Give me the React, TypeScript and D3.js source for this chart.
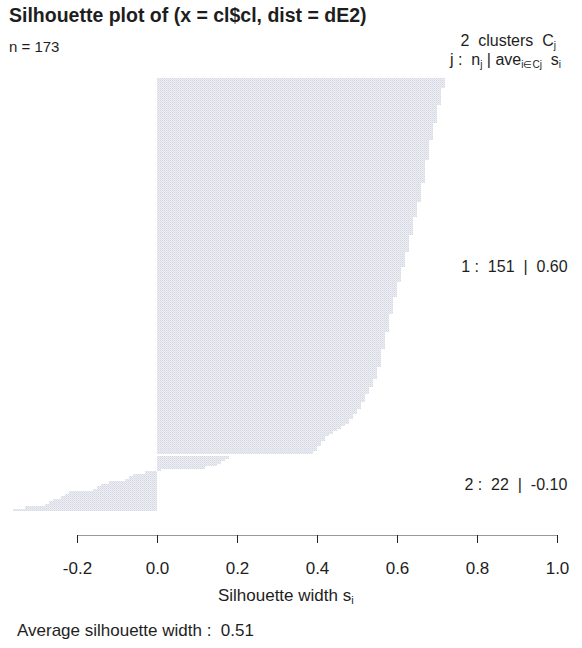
import React, { useEffect, useRef } from "react";
import * as d3 from "d3";

// silhouette widths, sorted within each cluster
const cluster1Widths = [
  0.72, 0.72, 0.72, 0.72, 0.71, 0.71, 0.71, 0.71, 0.71, 0.71,
  0.71, 0.7, 0.7, 0.7, 0.7, 0.7, 0.7, 0.7, 0.69, 0.69,
  0.69, 0.69, 0.69, 0.69, 0.69, 0.68, 0.68, 0.68, 0.68, 0.68,
  0.68, 0.68, 0.68, 0.67, 0.67, 0.67, 0.67, 0.67, 0.67, 0.67,
  0.67, 0.67, 0.66, 0.66, 0.66, 0.66, 0.66, 0.66, 0.66, 0.66,
  0.65, 0.65, 0.65, 0.65, 0.65, 0.65, 0.64, 0.64, 0.64, 0.64,
  0.64, 0.64, 0.64, 0.63, 0.63, 0.63, 0.63, 0.63, 0.63, 0.63,
  0.62, 0.62, 0.62, 0.62, 0.62, 0.62, 0.61, 0.61, 0.61, 0.61,
  0.61, 0.61, 0.6, 0.6, 0.6, 0.6, 0.6, 0.6, 0.59, 0.59,
  0.59, 0.59, 0.59, 0.59, 0.59, 0.58, 0.58, 0.58, 0.58, 0.58,
  0.58, 0.58, 0.57, 0.57, 0.57, 0.57, 0.57, 0.57, 0.57, 0.56,
  0.56, 0.56, 0.56, 0.56, 0.56, 0.56, 0.55, 0.55, 0.55, 0.55,
  0.55, 0.54, 0.54, 0.54, 0.53, 0.53, 0.53, 0.52, 0.52, 0.52,
  0.51, 0.51, 0.51, 0.5, 0.5, 0.49, 0.49, 0.48, 0.48, 0.47,
  0.46, 0.45, 0.44, 0.43, 0.42, 0.42, 0.41, 0.41, 0.4, 0.4,
  0.39,
];
const cluster2Widths = [
  0.18, 0.17, 0.16, 0.15, 0.12, 0.01,
  -0.03, -0.06, -0.07, -0.08, -0.12, -0.14, -0.15, -0.16,
  -0.22, -0.23, -0.24, -0.26, -0.27, -0.28, -0.33, -0.36,
];
const xTicks = [-0.2, 0, 0.2, 0.4, 0.6, 0.8, 1.0];

const App = () => {
  const svgRef: any = useRef();

  useEffect(() => {
    const svg = d3.select(svgRef.current);
    svg.selectAll("*").remove();
    const font = "'Liberation Sans', Arial, Helvetica, sans-serif";
    const ink = "#1e1e1e";
    const fs = 17;

    const x = d3.scaleLinear().domain([-0.2, 1]).range([77, 557]);
    const nSlots = cluster1Widths.length + 1 + cluster2Widths.length;
    const y = d3.scaleLinear().domain([0, nSlots]).range([78, 511]);

    const rows = [
      ...cluster1Widths.map((s, i) => ({ cluster: 1, s, pos: i })),
      ...cluster2Widths.map((s, i) => ({ cluster: 2, s, pos: cluster1Widths.length + 1 + i })),
    ];

    // dithered light fill like the original output
    const pat = svg
      .append("defs")
      .append("pattern")
      .attr("id", "dither")
      .attr("width", 2)
      .attr("height", 2)
      .attr("patternUnits", "userSpaceOnUse");
    pat.append("rect").attr("width", 2).attr("height", 2).attr("fill", "#eceef4");
    pat.append("rect").attr("width", 1).attr("height", 1).attr("fill", "#d5d7e1");
    pat.append("rect").attr("x", 1).attr("y", 1).attr("width", 1).attr("height", 1).attr("fill", "#dee0e9");

    svg
      .append("g")
      .selectAll("rect")
      .data(rows)
      .join("rect")
      .attr("x", (d) => x(Math.min(0, d.s)))
      .attr("y", (d) => y(d.pos))
      .attr("width", (d) => Math.abs(x(d.s) - x(0)))
      .attr("height", y(1) - y(0))
      .attr("fill", "url(#dither)")
      .attr("shape-rendering", "crispEdges");

    // axis
    const axisY = 535;
    const gx = svg
      .append("g")
      .attr("transform", `translate(0,${axisY})`)
      .call(
        d3
          .axisBottom(x)
          .tickValues(xTicks)
          .tickFormat((d: any) => d.toFixed(1))
          .tickSize(8)
          .tickSizeOuter(0)
          .tickPadding(19)
      );
    gx.select(".domain").attr("stroke", "#333").attr("stroke-dasharray", "1 1");
    gx.selectAll(".tick line").attr("stroke", "#222");
    gx.selectAll(".tick text")
      .attr("font-family", font)
      .attr("font-size", fs)
      .attr("fill", ink);

    const txt = (xx: number, yy: number, size: number, anchor = "start") =>
      svg
        .append("text")
        .attr("x", xx)
        .attr("y", yy)
        .attr("font-family", font)
        .attr("font-size", size)
        .attr("fill", ink)
        .attr("text-anchor", anchor)
        .style("white-space", "pre");

    txt(9, 22, 19.5).attr("font-weight", "bold").text("Silhouette plot of (x = cl$cl, dist = dE2)");
    txt(9, 52, 15).text("n = 173");

    const h1 = txt(556, 46, 16, "end");
    h1.append("tspan").text("2  clusters  C");
    h1.append("tspan").attr("font-size", 10).attr("dy", 3).text("j");

    const h2 = txt(561, 65, 16, "end");
    h2.append("tspan").text("j :  n");
    h2.append("tspan").attr("font-size", 10).attr("dy", 3).text("j");
    h2.append("tspan").attr("dy", -3).text(" | ave");
    h2.append("tspan").attr("font-size", 10).attr("dy", 3).text("i\u2208Cj");
    h2.append("tspan").attr("dy", -3).text("  s");
    h2.append("tspan").attr("font-size", 10).attr("dy", 3).text("i");

    // cluster summaries, placed like R's text(1, yj, adj = 0.8)
    const groups = [
      { id: 1, widths: cluster1Widths, start: 0 },
      { id: 2, widths: cluster2Widths, start: cluster1Widths.length + 1 },
    ];
    groups.forEach((g) => {
      const avg = d3.mean(g.widths) as number;
      const yc = y(g.start + g.widths.length / 2);
      const t = txt(x(1), yc + 6, 16).text(
        `${g.id} :  ${g.widths.length}  |  ${avg.toFixed(2)}`
      );
      const w = (t.node() as any).getComputedTextLength();
      t.attr("x", x(1) - 0.9 * w);
    });

    const xl = txt((x(-0.41) + x(1.054)) / 2, 601, fs, "middle");
    xl.append("tspan").text("Silhouette width s");
    xl.append("tspan").attr("font-size", 11).attr("dy", 3).text("i");

    const all = [...cluster1Widths, ...cluster2Widths];
    txt(17, 636, fs).text(`Average silhouette width :  ${(d3.mean(all) as number).toFixed(2)}`);
  }, []);

  return (
    <svg
      ref={svgRef}
      width={582}
      height={648}
      style={{ position: "absolute", left: 0, top: 0, background: "#fff" }}
    ></svg>
  );
};

export default App;
